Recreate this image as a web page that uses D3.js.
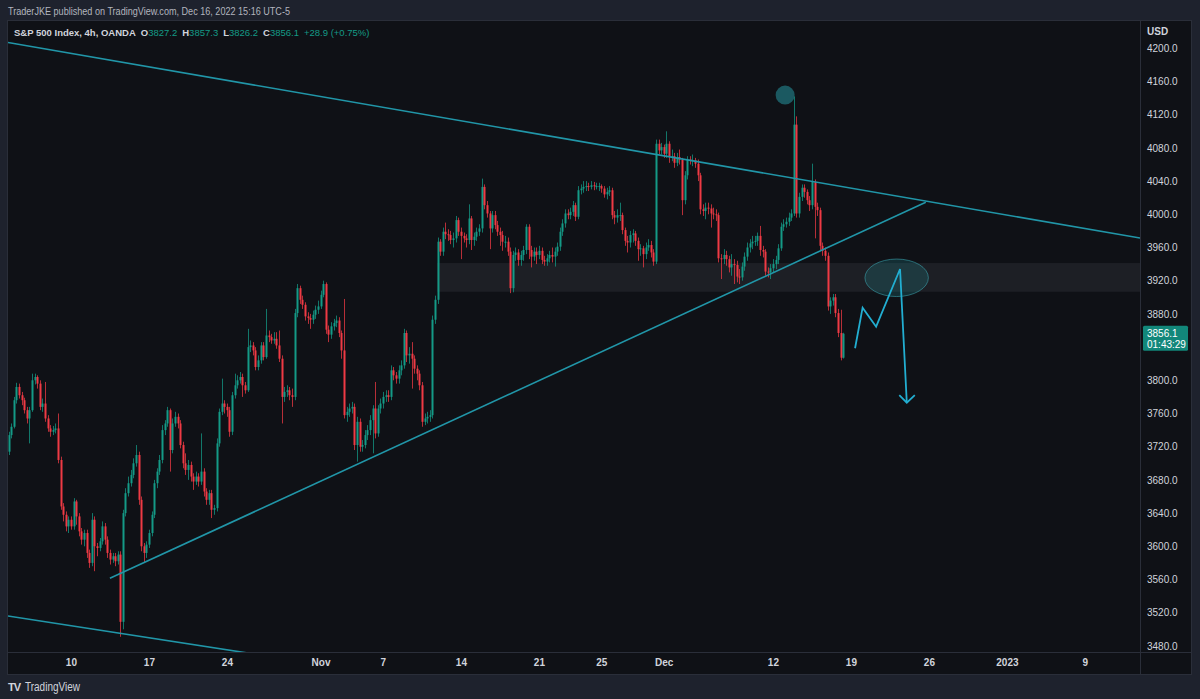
<!DOCTYPE html>
<html>
<head>
<meta charset="utf-8">
<script src="https://cdnjs.cloudflare.com/ajax/libs/d3/7.8.5/d3.min.js"></script>
<style>
  body { margin: 0; background: #1e222d; overflow: hidden; }
  svg  { display: block; font-family: "Liberation Sans", Arial, sans-serif; }
</style>
</head>
<body>
<svg width="1200" height="699"></svg>
<script>
// ---- data : S&P 500 Index 4h (OANDA), bars are consecutive, open = previous close
var firstOpen = 3714 ;
var closes = [
  3734,3744,3776,3792,3782,3776,3764,3754,3764,3800,
  3804,3796,3768,3772,3754,3742,3738,3740,3742,3704,
  3648,3638,3624,3632,3624,3654,3636,3618,3608,3616,
  3592,3580,3632,3600,3598,3606,3624,3608,3592,3584,
  3588,3582,3590,3509,3640,3664,3676,3686,3700,3710,
  3656,3600,3592,3602,3616,3638,3676,3690,3704,3740,
  3748,3764,3716,3748,3756,3748,3722,3700,3692,3698,
  3684,3678,3684,3678,3690,3666,3656,3664,3644,3646,
  3724,3762,3772,3768,3764,3738,3782,3794,3800,3804,
  3794,3788,3840,3842,3836,3816,3824,3842,3828,3854,
  3852,3848,3850,3842,3826,3780,3786,3788,3782,3780,
  3881,3911,3897,3891,3877,3875,3873,3879,3885,3889,
  3903,3916,3861,3855,3865,3869,3872,3857,3836,3758,
  3762,3766,3768,3722,3750,3720,3722,3734,3740,3752,
  3766,3736,3766,3772,3780,3782,3780,3812,3806,3802,
  3812,3818,3857,3830,3832,3826,3814,3808,3794,3750,
  3754,3756,3758,3873,3897,3967,3955,3979,3976,3975,
  3969,3971,3993,3979,3974,3971,3969,3995,3969,3973,
  3979,3983,4033,4011,4001,3983,3999,3987,3979,3975,
  3967,3967,3955,3911,3951,3954,3945,3951,3957,3985,
  3957,3949,3955,3951,3956,3945,3943,3947,3951,3949,
  3955,3961,3979,3989,4001,3999,4003,4011,3997,4029,
  4031,4033,4034,4033,4035,4034,4034,4034,4031,4024,
  4027,4029,3999,3996,3999,3999,3981,3968,3966,3975,
  3977,3968,3958,3959,3952,3960,3963,3954,3943,4085,
  4077,4081,4073,4085,4070,4070,4062,4069,4066,4017,
  4047,4066,4065,4065,4061,4047,4006,4004,4008,4007,
  4001,4000,3999,3947,3946,3951,3946,3936,3940,3939,
  3925,3924,3937,3949,3960,3965,3967,3968,3974,3957,
  3955,3931,3930,3935,3940,3945,3959,3985,3988,3991,
  3996,4001,4108,4001,4021,4032,4027,4017,4011,4039,
  4009,4005,3962,3956,3950,3889,3896,3900,3881,3857,
  3827.2,3856.1
] ;
var highs = [
  3738,3748,3780,3797,3796,3786,3779,3768,3768,3808,
  3808,3806,3800,3778,3798,3758,3746,3745,3748,3760,
  3708,3652,3642,3636,3636,3658,3656,3640,3622,3620,
  3620,3596,3640,3636,3604,3610,3630,3628,3612,3596,
  3592,3592,3594,3594,3644,3670,3684,3692,3706,3722,
  3714,3660,3604,3606,3620,3642,3680,3694,3710,3746,
  3752,3768,3766,3754,3762,3760,3752,3726,3712,3704,
  3702,3688,3690,3688,3736,3694,3670,3668,3668,3650,
  3730,3766,3802,3776,3772,3768,3786,3808,3806,3810,
  3808,3798,3862,3848,3846,3840,3830,3846,3846,3886,
  3860,3856,3858,3858,3860,3830,3792,3794,3792,3790,
  3886,3916,3914,3902,3894,3882,3880,3884,3890,3896,
  3908,3920,3918,3866,3870,3874,3878,3876,3860,3898,
  3768,3772,3774,3772,3756,3754,3728,3740,3746,3758,
  3770,3798,3770,3778,3786,3788,3788,3818,3816,3810,
  3818,3824,3862,3860,3840,3846,3830,3818,3812,3798,
  3760,3762,3764,3878,3902,3972,3970,3984,3990,3982,
  3980,3978,3998,3996,3984,3978,3976,4012,3998,3978,
  3984,3988,4043,4036,4016,4004,4004,4004,3992,3984,
  3980,3974,3972,3960,3956,3960,3958,3956,3962,3988,
  3988,3962,3960,3960,3962,3960,3950,3952,3956,3960,
  3960,3966,3984,3994,4006,4006,4008,4016,4014,4034,
  4036,4040,4040,4038,4040,4039,4038,4038,4036,4034,
  4032,4034,4032,4004,4006,4014,4002,3984,3974,3980,
  3982,3980,3972,3964,3962,3966,3970,3968,3958,4090,
  4090,4086,4084,4100,4088,4078,4074,4074,4078,4068,
  4052,4070,4070,4072,4068,4066,4050,4012,4014,4014,
  4012,4008,4006,4002,3952,3958,3956,3950,3952,3946,
  3944,3934,3942,3954,3966,3970,3974,3974,3978,3986,
  3962,3958,3936,3940,3946,3950,3964,3990,3994,3996,
  4002,4006,4142,4118,4026,4036,4036,4030,4022,4061,
  4042,4014,4008,3966,3960,3954,3900,3904,3904,3886,
  3885,3857.3
] ;
var lows = [
  3710,3730,3742,3772,3778,3770,3760,3748,3724,3762,
  3795,3790,3764,3762,3750,3738,3732,3734,3736,3700,
  3644,3630,3618,3616,3620,3620,3626,3612,3602,3600,
  3586,3574,3576,3570,3588,3594,3602,3602,3586,3578,
  3580,3576,3578,3491,3500,3636,3660,3672,3682,3696,
  3650,3594,3580,3586,3598,3612,3634,3670,3686,3700,
  3734,3744,3690,3712,3744,3742,3718,3694,3686,3680,
  3678,3668,3674,3672,3674,3660,3650,3650,3634,3638,
  3642,3720,3758,3760,3756,3732,3734,3778,3790,3796,
  3780,3784,3786,3834,3830,3812,3812,3820,3824,3826,
  3846,3844,3844,3838,3822,3748,3774,3780,3776,3768,
  3776,3876,3892,3886,3872,3868,3862,3868,3874,3880,
  3886,3900,3856,3846,3850,3860,3864,3852,3826,3754,
  3750,3756,3760,3716,3702,3714,3714,3718,3728,3734,
  3712,3730,3732,3760,3766,3774,3774,3776,3800,3796,
  3796,3806,3814,3822,3820,3790,3808,3800,3788,3744,
  3746,3748,3750,3754,3868,3892,3950,3950,3970,3968,
  3964,3960,3966,3974,3946,3966,3960,3964,3957,3962,
  3968,3974,3978,4006,3996,3958,3978,3982,3974,3962,
  3956,3960,3950,3905,3906,3944,3938,3938,3944,3952,
  3946,3936,3944,3940,3946,3940,3938,3938,3942,3942,
  3937,3950,3956,3974,3984,3994,3994,3998,3992,3994,
  4024,4026,4028,4028,4030,4029,4030,4028,4026,4020,
  4018,4022,3994,3988,3990,3992,3976,3962,3954,3960,
  3966,3962,3944,3950,3936,3946,3956,3948,3938,3940,
  4072,4072,4068,4068,4062,4064,4056,4058,4060,3999,
  4012,4042,4060,4058,4056,4040,4000,3998,3994,4000,
  3984,3994,3992,3942,3922,3940,3938,3930,3926,3916,
  3918,3916,3920,3932,3944,3954,3958,3962,3962,3950,
  3948,3926,3924,3922,3930,3934,3940,3956,3980,3984,
  3986,3992,3998,3996,3996,4016,4020,4012,4004,4006,
  3971,3998,3956,3950,3944,3884,3880,3890,3876,3852,
  3824,3826.2
] ;

// time axis : bar index of each label
var timeTickIndex  = [24, 54, 84, 120, 144, 174, 204, 228, 252, 294, 324, 354, 384, 414] ;
var timeTickLabels = ["10","17","24","Nov","7","14","21","25","Dec","12","19","26","2023","9"] ;
var priceTicks = [4200,4160,4120,4080,4040,4000,3960,3920,3880,3800,3760,3720,3680,3640,3600,3560,3520,3480] ;

// drawings, as [bar index, price]
var upperLine  = [[-0.2, 4207], [435.2, 3971.4]] ;
var lowerLine  = [[39, 3561.4], [352.8, 4014.5]] ;
var bottomLine = [[-0.2, 3516], [95, 3470]] ;
var zoneBox    = {from: 164.8, top: 3941.3, bottom: 3906.7} ;
var ellipseAt  = {i: 341.6, p: 3923.5, bars: 12.2, pts: 22.6} ;
var circleAt   = {i: 298.7, p: 4143.6} ;
var projection = [[325.6, 3838.6], [328.5, 3887.5], [333.7, 3864.6], [342.9, 3934.1], [345.5, 3773]] ;

var UP   = "#149a86" ;
var DOWN = "#ef3a44" ;
var LINE = "#2196a8" ;
var TEXT = "#d1d4dc" ;

var svg = d3.select("svg") ;

// frame
svg.append("rect").attr("x",0).attr("y",0).attr("width",1200).attr("height",699).style("fill","#1e222d") ;
svg.append("rect").attr("x",7.5).attr("y",20.5).attr("width",1184).attr("height",654)
  .style("fill","#0f1116").style("stroke","#2a2e39") ;
svg.append("line").attr("x1",1140.5).attr("x2",1140.5).attr("y1",21).attr("y2",675).style("stroke","#2a2e39") ;
svg.append("line").attr("x1",8).attr("x2",1192).attr("y1",652.5).attr("y2",652.5).style("stroke","#2a2e39") ;

// scales
var x = d3.scaleLinear().domain([0, 321]).range([8.5, 843.1]) ;
var y = d3.scaleLinear().domain([3480, 4200]).range([645.9, 48.3]) ;

svg.append("clipPath").attr("id","pane")
  .append("rect").attr("x",8).attr("y",21).attr("width",1132).attr("height",631) ;
var pane = svg.append("g").attr("clip-path","url(#pane)") ;

// zone rectangle
pane.append("rect")
  .attr("x", x(zoneBox.from)).attr("y", y(zoneBox.top))
  .attr("width", 1140 - x(zoneBox.from)).attr("height", y(zoneBox.bottom) - y(zoneBox.top))
  .style("fill", "rgba(120,123,134,0.14)") ;

// candles
var bars = closes.map(function(c, i){
  var o = i === 0 ? firstOpen : closes[i-1] ;
  return {i: i, o: o, c: c, h: highs[i], l: lows[i]} ;
}) ;
var candle = pane.selectAll("g.bar").data(bars).enter().append("g").attr("class","bar") ;
candle.append("line")
  .attr("x1", function(d){ return Math.round(x(d.i)) + 0.5 ; })
  .attr("x2", function(d){ return Math.round(x(d.i)) + 0.5 ; })
  .attr("y1", function(d){ return y(d.h) ; })
  .attr("y2", function(d){ return y(d.l) ; })
  .style("stroke", function(d){ return d.c >= d.o ? UP : DOWN ; })
  .style("stroke-width", 1)
  .style("opacity", 0.75) ;
candle.append("rect")
  .attr("x", function(d){ return Math.round(x(d.i)) - 0.5 ; })
  .attr("width", 2)
  .attr("y", function(d){ return y(Math.max(d.o, d.c)) ; })
  .attr("height", function(d){ return Math.max(1, Math.abs(y(d.o) - y(d.c))) ; })
  .style("fill", function(d){ return d.c >= d.o ? UP : DOWN ; }) ;

// trend lines
var seg = d3.line().x(function(d){ return x(d[0]) ; }).y(function(d){ return y(d[1]) ; }) ;
[upperLine, lowerLine, bottomLine].forEach(function(l){
  pane.append("path").attr("d", seg(l))
    .style("fill","none").style("stroke", LINE).style("stroke-width", 1.6) ;
}) ;

// highlight circle at the spike
pane.append("circle")
  .attr("cx", x(circleAt.i)).attr("cy", y(circleAt.p)).attr("r", 9.5)
  .style("fill", "rgba(38,150,160,0.55)") ;

// ellipse on the zone
pane.append("ellipse")
  .attr("cx", x(ellipseAt.i)).attr("cy", y(ellipseAt.p))
  .attr("rx", x(ellipseAt.i + ellipseAt.bars) - x(ellipseAt.i))
  .attr("ry", y(ellipseAt.p - ellipseAt.pts) - y(ellipseAt.p))
  .style("fill", "rgba(38,150,160,0.22)")
  .style("stroke", "rgba(60,170,180,0.55)").style("stroke-width", 1) ;

// projected path with arrow head
pane.append("path").attr("d", seg(projection))
  .style("fill","none").style("stroke","#22aed1").style("stroke-width", 1.8)
  .style("stroke-linejoin","miter") ;
var tip = projection[projection.length - 1] ;
var tx = x(tip[0]), ty = y(tip[1]) ;
pane.append("path")
  .attr("d", "M" + (tx - 7.5) + "," + (ty - 7.5) + "L" + tx + "," + ty + "L" + (tx + 8) + "," + (ty - 7.5))
  .style("fill","none").style("stroke","#22aed1").style("stroke-width", 1.8) ;

// price axis
var yAxis = d3.axisRight(y).tickValues(priceTicks).tickSize(0).tickPadding(7)
  .tickFormat(d3.format(".1f")) ;
var ya = svg.append("g").attr("transform","translate(1140,0)").call(yAxis) ;
ya.select(".domain").remove() ;
ya.selectAll("text").style("fill", TEXT).style("font-size","10px").style("font-family", null) ;
svg.append("text").attr("x",1147).attr("y",35).text("USD")
  .style("fill",TEXT).style("font-size","10px").style("font-weight","bold") ;

// last price label
var lastY = y(closes[closes.length - 1]) ;
svg.append("rect").attr("x",1143).attr("y",lastY - 8).attr("width",45).attr("height",25)
  .attr("rx",1.5).style("fill","#12877a") ;
svg.append("text").attr("x",1147).attr("y",lastY + 3.5).text(d3.format(".1f")(closes[closes.length - 1]))
  .style("fill","#ffffff").style("font-size","10px") ;
svg.append("text").attr("x",1147).attr("y",lastY + 14.5).text("01:43:29")
  .style("fill","#ffffff").style("font-size","10px") ;

// time axis
var xAxis = d3.axisBottom(x).tickValues(timeTickIndex).tickSize(0).tickPadding(7)
  .tickFormat(function(d, i){ return timeTickLabels[i] ; }) ;
var xa = svg.append("g").attr("transform","translate(0,652)").call(xAxis) ;
xa.select(".domain").remove() ;
xa.selectAll("text").style("fill", TEXT).style("font-size","10px").style("font-family", null)
  .style("font-weight","bold") ;

// header
svg.append("text").attr("x",8).attr("y",15)
  .attr("textLength", 282).attr("lengthAdjust", "spacingAndGlyphs")
  .text("TraderJKE published on TradingView.com, Dec 16, 2022 15:16 UTC-5")
  .style("fill","#b2b5be").style("font-size","11.5px") ;

// legend
var legend = svg.append("text").attr("x",14).attr("y",36).style("font-size","9.5px") ;
var last = bars[bars.length - 1] ;
legend.append("tspan").text("S&P 500 Index, 4h, OANDA").style("fill",TEXT).style("font-weight","bold") ;
[["O", last.o], ["H", last.h], ["L", last.l], ["C", last.c]].forEach(function(p){
  legend.append("tspan").attr("dx", 5).text(p[0]).style("fill",TEXT).style("font-weight","bold") ;
  legend.append("tspan").text(d3.format(".1f")(p[1])).style("fill", UP) ;
}) ;
legend.append("tspan").attr("dx", 5).text("+28.9 (+0.75%)").style("fill", UP) ;

// footer logo
svg.append("text").attr("x",8).attr("y",691).text("TV")
  .style("fill","#d1d4dc").style("font-size","11px").style("font-weight","bold").style("letter-spacing","-1px") ;
svg.append("text").attr("x",25).attr("y",691).attr("textLength", 55).attr("lengthAdjust", "spacingAndGlyphs")
  .text("TradingView").style("fill","#d1d4dc").style("font-size","12px") ;
</script>
</body>
</html>
